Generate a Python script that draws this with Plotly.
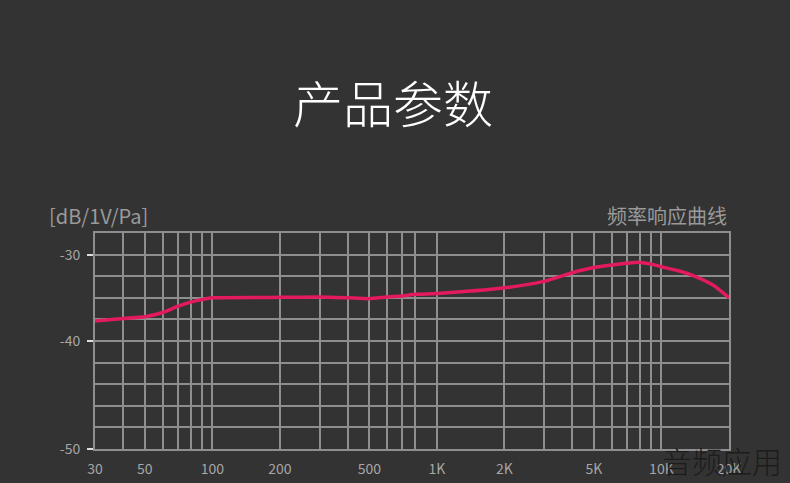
import math
import plotly.graph_objects as go

# frequency response
freq_hz = [30, 40, 50, 60, 70, 80, 90, 100, 200, 300, 400, 500, 600, 700, 800,
           1000, 2000, 3000, 4000, 5000, 6000, 7000, 8000, 9000, 10000,
           12000, 13750, 16900, 20000]
level_db = [-37.7, -37.4, -37.2, -36.7, -36.0, -35.5, -35.2, -35.0, -34.95, -34.9,
            -35.0, -35.1, -34.9, -34.8, -34.6, -34.5, -33.85, -33.1, -32.1, -31.5,
            -31.2, -31.0, -30.9, -31.1, -31.4, -31.9, -32.4, -33.5, -35.0]

x_tickvals = [30, 50, 100, 200, 500, 1000, 2000, 5000, 10000, 20000]
x_ticktext = ["30", "50", "100", "200", "500", "1K", "2K", "5K", "10K", "20K"]
x_minor = [40, 60, 70, 80, 90, 300, 400, 600, 700, 800,
           3000, 4000, 6000, 7000, 8000, 9000]

y_tickvals = [-30, -40, -52.5]
y_ticktext = ["-30", "-40", "-50"]

bg = "#333333"
grid = "#8e8e8e"
label = "#a6a6a6"
font = "Noto Sans CJK SC"

fig = go.Figure()
fig.add_trace(go.Scatter(
    x=freq_hz, y=level_db, mode="lines",
    line=dict(color="#e31a5c", width=3.5, shape="spline", smoothing=0.6),
    hoverinfo="skip", showlegend=False,
))

fig.update_layout(
    width=790, height=483,
    paper_bgcolor=bg, plot_bgcolor=bg,
    margin=dict(l=95, r=61, t=233, b=34),
    font=dict(family=font, color=label, size=14),
    xaxis=dict(
        type="log", range=[math.log10(30), math.log10(20000)],
        tickvals=x_tickvals, ticktext=x_ticktext, ticks="",
        ticklabelstandoff=6, automargin=False,
        showgrid=True, gridcolor=grid, gridwidth=2,
        showline=True, mirror=True, linecolor=grid, linewidth=2,
        zeroline=False, tickfont=dict(size=14, color=label),
        minor=dict(tickvals=x_minor, showgrid=True, gridcolor=grid,
                   gridwidth=2, ticks=""),
        fixedrange=True,
    ),
    yaxis=dict(
        range=[-52.5, -27.5], tickvals=y_tickvals, ticktext=y_ticktext,
        ticks="outside", ticklen=6, tickwidth=2, tickcolor="#dddddd",
        ticklabelstandoff=4, automargin=False,
        showgrid=True, gridcolor=grid, gridwidth=2,
        showline=True, mirror=True, linecolor=grid, linewidth=2,
        zeroline=False, tickfont=dict(size=14, color=label),
        minor=dict(tickmode="linear", tick0=-27.5, dtick=2.5, showgrid=True,
                   gridcolor=grid, gridwidth=2, ticks=""),
        fixedrange=True,
    ),
    annotations=[
        dict(text="产品参数", x=(393 - 95) / 634, y=1 + (233 - 101) / 216,
             xref="paper", yref="paper", yanchor="middle", showarrow=False,
             font=dict(family=font, size=50, color="#ffffff", weight=300)),
        dict(text="[dB/1V/Pa]", x=(47 - 95) / 634, y=1.005, xref="paper",
             yref="paper", xanchor="left", yanchor="bottom", showarrow=False,
             font=dict(family=font, size=20, color="#9a9a9a")),
        dict(text="频率响应曲线", x=1.0, y=1.005, xref="paper", yref="paper",
             xanchor="right", yanchor="bottom", showarrow=False,
             font=dict(family=font, size=20, color="#9a9a9a")),
        dict(text="音频应用", x=(660 - 95) / 634, y=-(460 - 449) / 216,
             xref="paper", yref="paper", xanchor="left", yanchor="middle",
             showarrow=False,
             font=dict(family=font, size=30, color="#1c1c1c", weight=300)),
    ],
)

fig.write_html(
    "out.html",
    config={"displayModeBar": False},
    post_script="document.body.style.margin='0';"
                "document.body.style.background='#333333';",
)
